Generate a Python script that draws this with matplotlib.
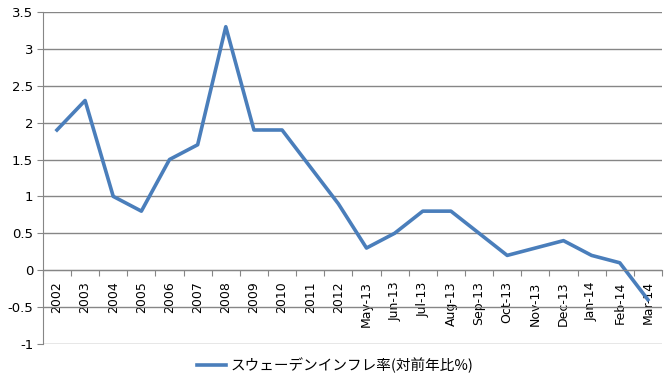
import matplotlib
matplotlib.use("Agg")
import matplotlib.pyplot as plt
import numpy as np

# スウェーデン インフレ率（対前年比%）
categories = ["2002", "2003", "2004", "2005", "2006", "2007", "2008", "2009",
              "2010", "2011", "2012", "May-13", "Jun-13", "Jul-13", "Aug-13",
              "Sep-13", "Oct-13", "Nov-13", "Dec-13", "Jan-14", "Feb-14", "Mar-14"]
inflation = [1.9, 2.3, 1.0, 0.8, 1.5, 1.7, 3.3, 1.9,
             1.9, 1.4, 0.9, 0.3, 0.5, 0.8, 0.8,
             0.5, 0.2, 0.3, 0.4, 0.2, 0.1, -0.4]
series_name = "スウェーデンインフレ率(対前年比%)"

plt.rcParams["font.family"] = ["DejaVu Sans", "Noto Sans CJK JP"]

fig = plt.figure(figsize=(6.7, 3.86), dpi=100)
ax = fig.add_axes([0.064, 0.109, 0.924, 0.860])

x = np.arange(len(categories)) + 0.5
line, = ax.plot(x, inflation, color="#4A7EBB", linewidth=2.6, label=series_name)

ax.set_xlim(0, len(categories))
ax.set_ylim(-1, 3.5)
ax.set_yticks(np.arange(-1, 3.51, 0.5))
ax.set_yticklabels(["-1", "-0.5", "0", "0.5", "1", "1.5", "2", "2.5", "3", "3.5"])
ax.grid(axis="y", color="#868686", linewidth=1.0)
ax.set_axisbelow(True)

for s in ["top", "right"]:
    ax.spines[s].set_visible(False)
ax.spines["left"].set_color("#868686")
ax.spines["bottom"].set_position(("data", 0))
ax.spines["bottom"].set_color("#868686")

# tick marks at category boundaries, labels at centres
ax.set_xticks(np.arange(len(categories) + 1))
ax.set_xticklabels([])
ax.set_xticks(x, minor=True)
ax.set_xticklabels(categories, minor=True, rotation=90, fontsize=9)
ax.tick_params(axis="x", which="major", length=4, color="#868686", direction="out")
ax.tick_params(axis="x", which="minor", length=0, pad=8)
ax.tick_params(axis="y", length=4, color="#868686", labelsize=9.5, pad=3)

fig.legend(handles=[line], loc="lower center", bbox_to_anchor=(0.5, 0.0),
           frameon=False, handlelength=2.0, handletextpad=0.3,
           prop={"family": ["Noto Sans CJK JP", "DejaVu Sans"], "size": 10.5})

fig.savefig("out.png", dpi=100)
